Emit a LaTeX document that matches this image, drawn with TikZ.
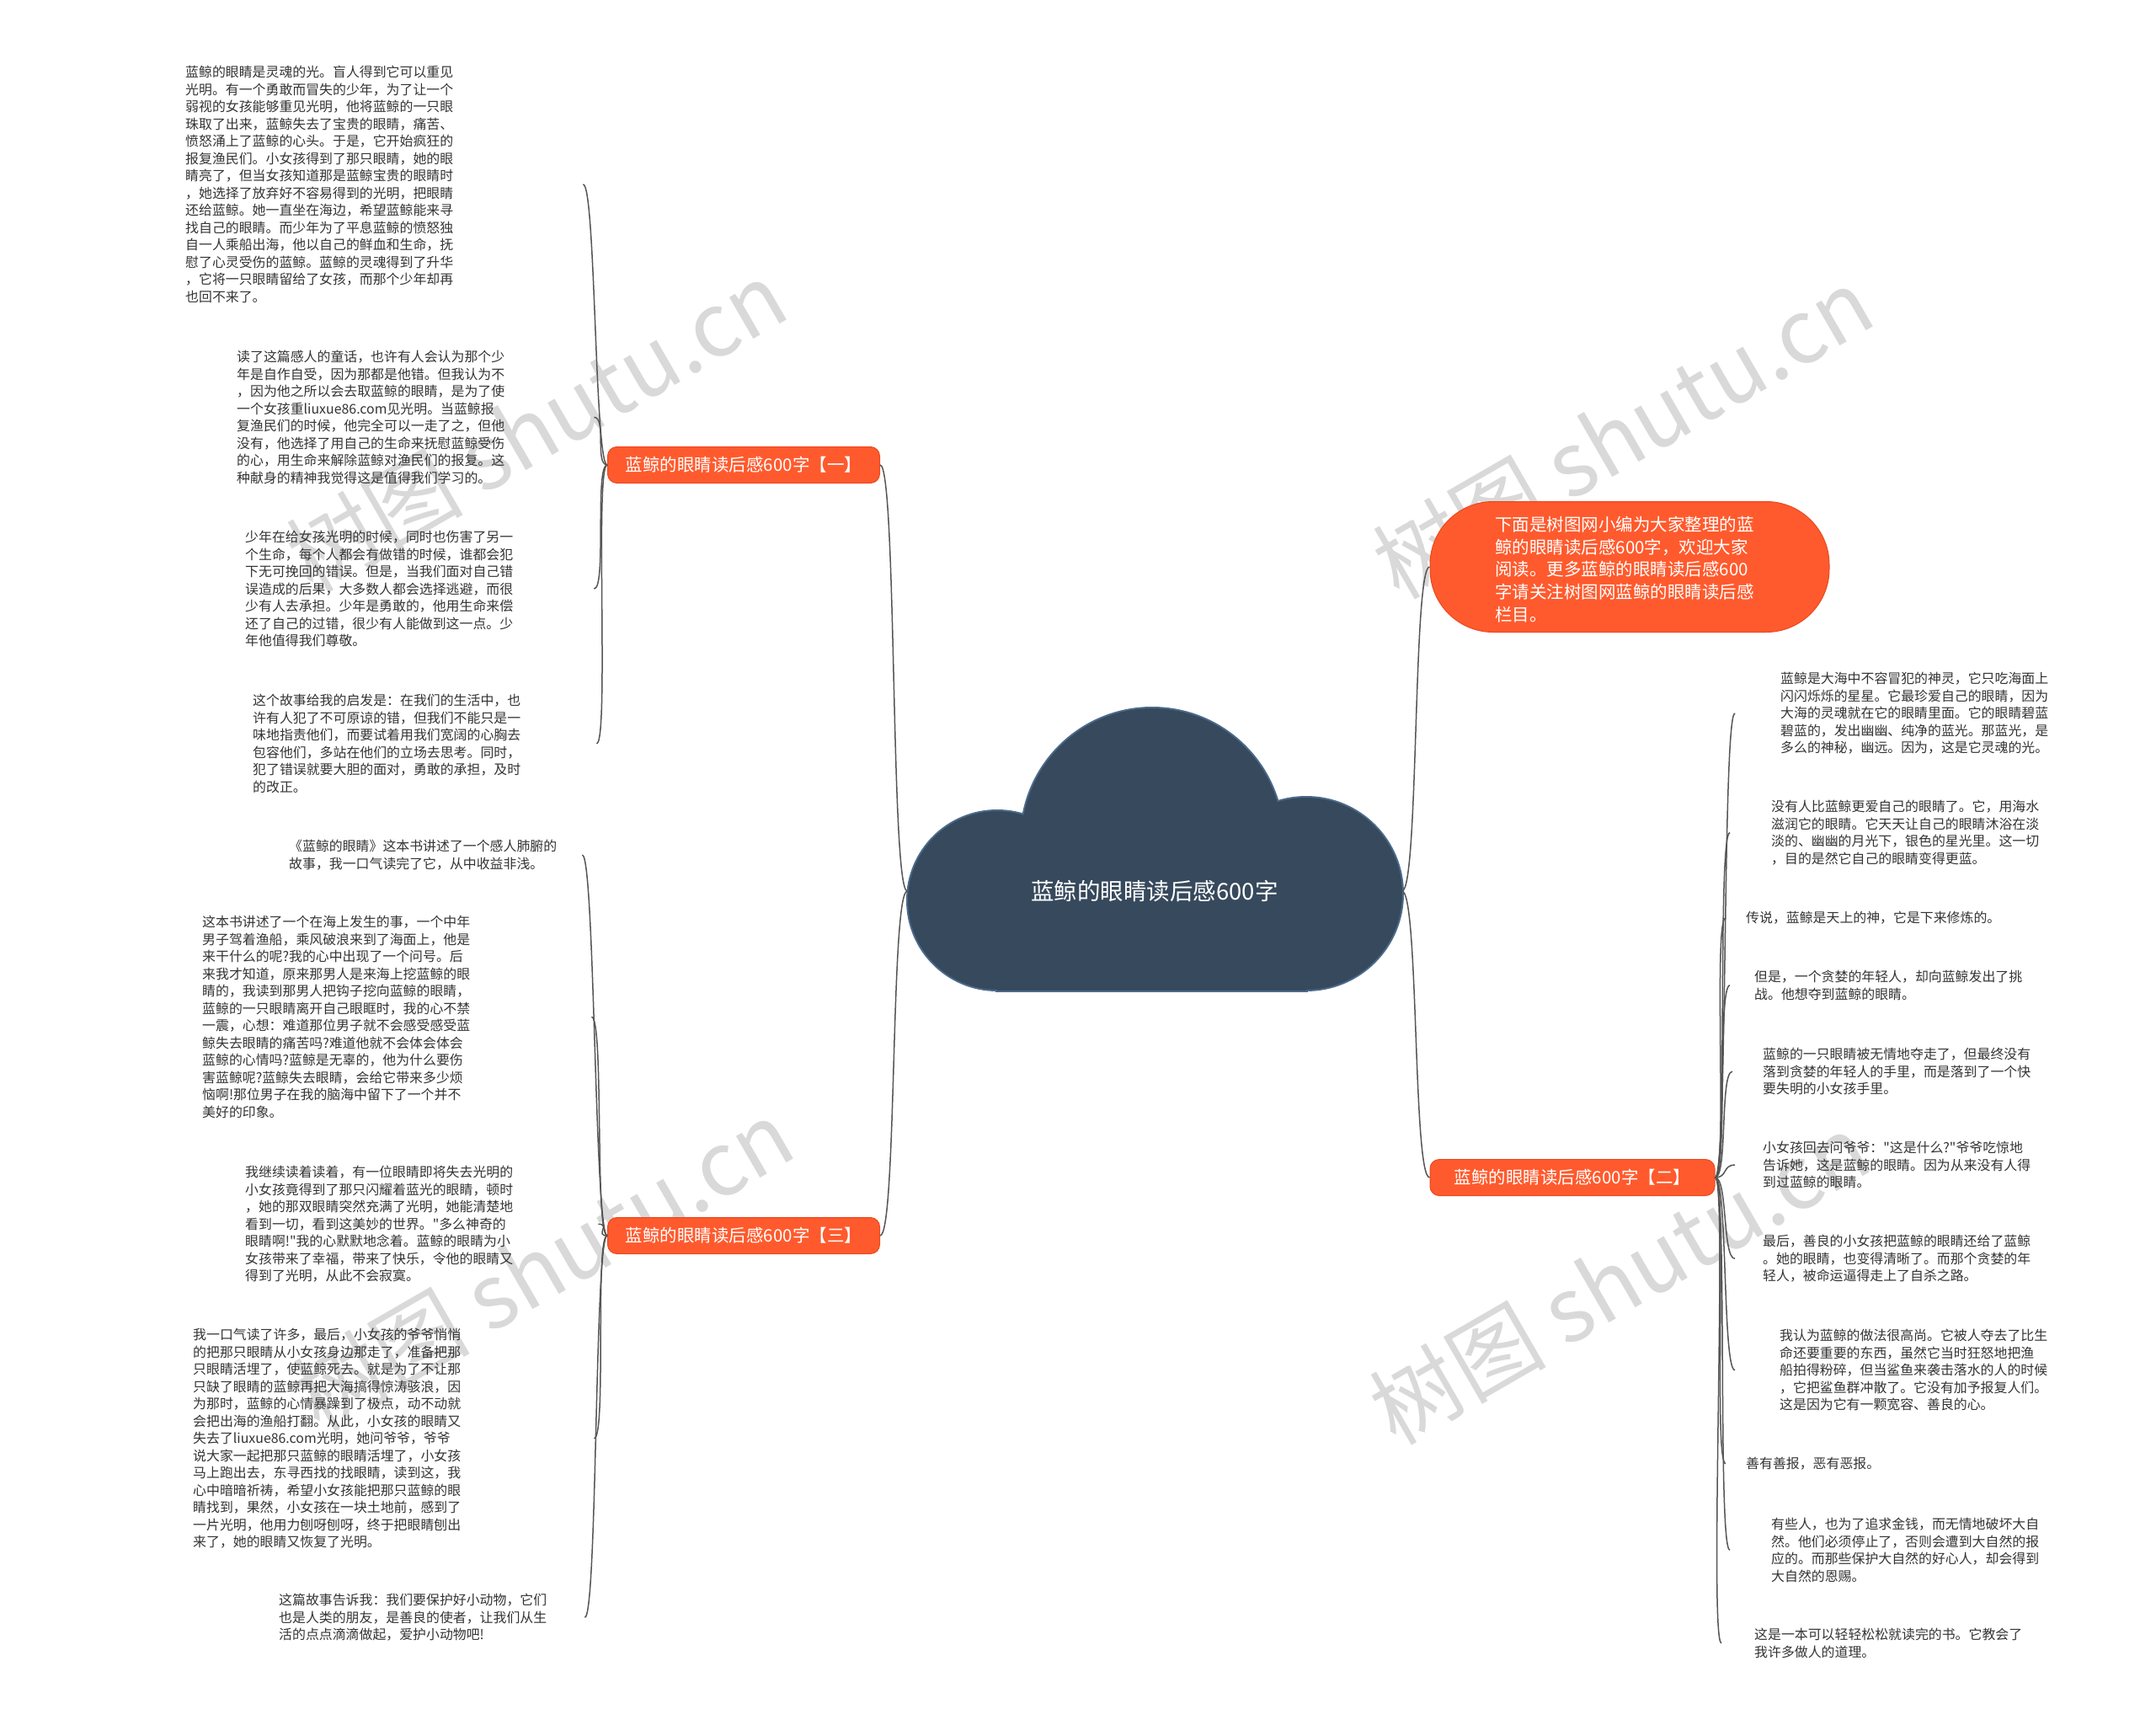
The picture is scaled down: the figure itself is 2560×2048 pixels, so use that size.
\documentclass[tikz,border=0pt]{standalone}
\usepackage{fontspec}
\setmainfont{Noto Sans CJK SC}
\newfontfamily\cjk{Noto Sans CJK SC}
\usetikzlibrary{positioning}
\definecolor{hubfill}{HTML}{37495C}
\definecolor{hubline}{HTML}{4B6A8C}
\definecolor{branchfill}{HTML}{FF5A2D}
\definecolor{branchline}{HTML}{E9481F}
\definecolor{linkgray}{HTML}{555555}
\definecolor{leaftext}{HTML}{333333}
\definecolor{wmgray}{HTML}{CFCFCF}

\begin{document}
\begin{tikzpicture}[x=1pt,y=-1pt,
  leaf/.style={anchor=north west,inner sep=0pt,align=left,text=leaftext,font=\cjk\fontsize{15.9}{20.5}\selectfont},
  branch/.style={rectangle,rounded corners=11pt,fill=branchfill,draw=branchline,line width=1pt,text=white,font=\cjk\fontsize{20.5}{26}\selectfont,minimum height=43pt,inner xsep=10pt},
  link/.style={draw=linkgray,line width=1.5pt},
  wmark/.style={text=wmgray,opacity=0.8,rotate=30,font=\cjk\fontsize{105}{105}\selectfont}]
  \useasboundingbox (0,0) rectangle (2560,2048);

  % watermarks
  \node[wmark] (wm1) at (637,506) {树图 shutu.cn};
  \node[wmark] (wm2) at (1927,514) {树图 shutu.cn};
  \node[wmark] (wm3) at (645,1502) {树图 shutu.cn};
  \node[wmark] (wm4) at (1923,1518) {树图 shutu.cn};

  % cloud
  \draw[hubline,line width=4pt] (1368,996) circle (155) (1184,1069) circle (106) (1551,1061) circle (114);
  \draw[hubline,line width=4pt] (1184,1012) rectangle (1551,1176);
  \fill[hubfill] (1368,996) circle (155) (1184,1069) circle (106) (1551,1061) circle (114);
  \fill[hubfill] (1184,1012) rectangle (1551,1176);
  \node[text=white,font=\cjk\fontsize{27.5}{33}\selectfont,minimum width=587pt,inner sep=0pt] (hub) at (1371,1058) {蓝鲸的眼睛读后感600字};

  % branches
  \node[branch,minimum width=323pt] (b1) at (883,552) {蓝鲸的眼睛读后感600字【一】};
  \node[branch,minimum width=323pt] (b3) at (883,1467) {蓝鲸的眼睛读后感600字【三】};
  \node[branch,minimum width=338pt] (b2) at (1867,1398) {蓝鲸的眼睛读后感600字【二】};
  \node[fill=branchfill,draw=branchline,line width=1pt,rounded corners=75pt,minimum width=474pt,minimum height=155pt] (b0) at (1935,673) {};
  \node[anchor=north west,inner sep=0pt,align=left,text=white,font=\cjk\fontsize{20.5}{26.7}\selectfont] (b0txt) at (1775,613) {下面是树图网小编为大家整理的蓝\\鲸的眼睛读后感600字，欢迎大家\\阅读。更多蓝鲸的眼睛读后感600\\字请关注树图网蓝鲸的眼睛读后感\\栏目。};

  % left leaves, first branch
  \node[leaf,text width=472pt] (l1) at (220,78) {蓝鲸的眼睛是灵魂的光。盲人得到它可以重见\\光明。有一个勇敢而冒失的少年，为了让一个\\弱视的女孩能够重见光明，他将蓝鲸的一只眼\\珠取了出来，蓝鲸失去了宝贵的眼睛，痛苦、\\愤怒涌上了蓝鲸的心头。于是，它开始疯狂的\\报复渔民们。小女孩得到了那只眼睛，她的眼\\睛亮了，但当女孩知道那是蓝鲸宝贵的眼睛时\\，她选择了放弃好不容易得到的光明，把眼睛\\还给蓝鲸。她一直坐在海边，希望蓝鲸能来寻\\找自己的眼睛。而少年为了平息蓝鲸的愤怒独\\自一人乘船出海，他以自己的鲜血和生命，抚\\慰了心灵受伤的蓝鲸。蓝鲸的灵魂得到了升华\\，它将一只眼睛留给了女孩，而那个少年却再\\也回不来了。};
  \node[leaf,text width=424pt] (l2) at (281,416) {读了这篇感人的童话，也许有人会认为那个少\\年是自作自受，因为那都是他错。但我认为不\\，因为他之所以会去取蓝鲸的眼睛，是为了使\\一个女孩重liuxue86.com见光明。当蓝鲸报\\复渔民们的时候，他完全可以一走了之，但他\\没有，他选择了用自己的生命来抚慰蓝鲸受伤\\的心，用生命来解除蓝鲸对渔民们的报复。这\\种献身的精神我觉得这是值得我们学习的。};
  \node[leaf,text width=414pt] (l3) at (291,630) {少年在给女孩光明的时候，同时也伤害了另一\\个生命，每个人都会有做错的时候，谁都会犯\\下无可挽回的错误。但是，当我们面对自己错\\误造成的后果，大多数人都会选择逃避，而很\\少有人去承担。少年是勇敢的，他用生命来偿\\还了自己的过错，很少有人能做到这一点。少\\年他值得我们尊敬。};
  \node[leaf,text width=408pt] (l4) at (300,824) {这个故事给我的启发是：在我们的生活中，也\\许有人犯了不可原谅的错，但我们不能只是一\\味地指责他们，而要试着用我们宽阔的心胸去\\包容他们，多站在他们的立场去思考。同时，\\犯了错误就要大胆的面对，勇敢的承担，及时\\的改正。};

  % left leaves, third branch
  \node[leaf,text width=348pt] (l5) at (343,997) {《蓝鲸的眼睛》这本书讲述了一个感人肺腑的\\故事，我一口气读完了它，从中收益非浅。};
  \node[leaf,text width=462pt] (l6) at (240,1087) {这本书讲述了一个在海上发生的事，一个中年\\男子驾着渔船，乘风破浪来到了海面上，他是\\来干什么的呢?我的心中出现了一个问号。后\\来我才知道，原来那男人是来海上挖蓝鲸的眼\\睛的，我读到那男人把钩子挖向蓝鲸的眼睛，\\蓝鲸的一只眼睛离开自己眼眶时，我的心不禁\\一震，心想：难道那位男子就不会感受感受蓝\\鲸失去眼睛的痛苦吗?难道他就不会体会体会\\蓝鲸的心情吗?蓝鲸是无辜的，他为什么要伤\\害蓝鲸呢?蓝鲸失去眼睛，会给它带来多少烦\\恼啊!那位男子在我的脑海中留下了一个并不\\美好的印象。};
  \node[leaf,text width=419pt] (l7) at (291,1384) {我继续读着读着，有一位眼睛即将失去光明的\\小女孩竟得到了那只闪耀着蓝光的眼睛，顿时\\，她的那双眼睛突然充满了光明，她能清楚地\\看到一切，看到这美妙的世界。"多么神奇的\\眼睛啊!"我的心默默地念着。蓝鲸的眼睛为小\\女孩带来了幸福，带来了快乐，令他的眼睛又\\得到了光明，从此不会寂寞。};
  \node[leaf,text width=476pt] (l8) at (229,1577) {我一口气读了许多，最后，小女孩的爷爷悄悄\\的把那只眼睛从小女孩身边那走了，准备把那\\只眼睛活埋了，使蓝鲸死去。就是为了不让那\\只缺了眼睛的蓝鲸再把大海搞得惊涛骇浪，因\\为那时，蓝鲸的心情暴躁到了极点，动不动就\\会把出海的渔船打翻。从此，小女孩的眼睛又\\失去了liuxue86.com光明，她问爷爷，爷爷\\说大家一起把那只蓝鲸的眼睛活埋了，小女孩\\马上跑出去，东寻西找的找眼睛，读到这，我\\心中暗暗祈祷，希望小女孩能把那只蓝鲸的眼\\睛找到，果然，小女孩在一块土地前，感到了\\一片光明，他用力刨呀刨呀，终于把眼睛刨出\\来了，她的眼睛又恢复了光明。};
  \node[leaf,text width=363pt] (l9) at (331,1892) {这篇故事告诉我：我们要保护好小动物，它们\\也是人类的朋友，是善良的使者，让我们从生\\活的点点滴滴做起，爱护小动物吧!};

  % right leaves, second branch
  \node[leaf] (r1) at (2114,798) {蓝鲸是大海中不容冒犯的神灵，它只吃海面上\\闪闪烁烁的星星。它最珍爱自己的眼睛，因为\\大海的灵魂就在它的眼睛里面。它的眼睛碧蓝\\碧蓝的，发出幽幽、纯净的蓝光。那蓝光，是\\多么的神秘，幽远。因为，这是它灵魂的光。};
  \node[leaf] (r2) at (2103,950) {没有人比蓝鲸更爱自己的眼睛了。它，用海水\\滋润它的眼睛。它天天让自己的眼睛沐浴在淡\\淡的、幽幽的月光下，银色的星光里。这一切\\，目的是然它自己的眼睛变得更蓝。};
  \node[leaf] (r3) at (2073,1082) {传说，蓝鲸是天上的神，它是下来修炼的。};
  \node[leaf] (r4) at (2083,1152) {但是，一个贪婪的年轻人，却向蓝鲸发出了挑\\战。他想夺到蓝鲸的眼睛。};
  \node[leaf] (r5) at (2093,1244) {蓝鲸的一只眼睛被无情地夺走了，但最终没有\\落到贪婪的年轻人的手里，而是落到了一个快\\要失明的小女孩手里。};
  \node[leaf] (r6) at (2093,1355) {小女孩回去问爷爷："这是什么?"爷爷吃惊地\\告诉她，这是蓝鲸的眼睛。因为从来没有人得\\到过蓝鲸的眼睛。};
  \node[leaf] (r7) at (2093,1466) {最后，善良的小女孩把蓝鲸的眼睛还给了蓝鲸\\。她的眼睛，也变得清晰了。而那个贪婪的年\\轻人，被命运逼得走上了自杀之路。};
  \node[leaf] (r8) at (2113,1578) {我认为蓝鲸的做法很高尚。它被人夺去了比生\\命还要重要的东西，虽然它当时狂怒地把渔\\船拍得粉碎，但当鲨鱼来袭击落水的人的时候\\，它把鲨鱼群冲散了。它没有加予报复人们。\\这是因为它有一颗宽容、善良的心。};
  \node[leaf] (r9) at (2073,1730) {善有善报，恶有恶报。};
  \node[leaf] (r10) at (2103,1802) {有些人，也为了追求金钱，而无情地破坏大自\\然。他们必须停止了，否则会遭到大自然的报\\应的。而那些保护大自然的好心人，却会得到\\大自然的恩赐。};
  \node[leaf] (r11) at (2083,1933) {这是一本可以轻轻松松就读完的书。它教会了\\我许多做人的道理。};

  % connectors
  \draw[link] (hub.west) .. controls +(-20,0) and +(20,0) .. (b1.east);
  \draw[link] (hub.west) .. controls +(-20,0) and +(20,0) .. (b3.east);
  \draw[link] (hub.east) .. controls +(20,0) and +(-20,0) .. (b0.west);
  \draw[link] (hub.east) .. controls +(20,0) and +(-20,0) .. (b2.west);
  \foreach \n in {l1,l2,l3,l4}
    \draw[link] (b1.west) .. controls +(-15,0) and +(15,0) .. (\n.east);
  \foreach \n in {l5,l6,l7,l8,l9}
    \draw[link] (b3.west) .. controls +(-15,0) and +(15,0) .. (\n.east);
  \foreach \n/\s in {r1/-54,r2/-49,r3/-24,r4/-29,r5/-36,r6/-33,r7/-33,r8/-53,r9/-24,r10/-49,r11/-39}
    \draw[link] (b2.east) .. controls +(15,0) and +(-15,0) .. ([xshift=\s pt]\n.west);
\end{tikzpicture}
\end{document}
